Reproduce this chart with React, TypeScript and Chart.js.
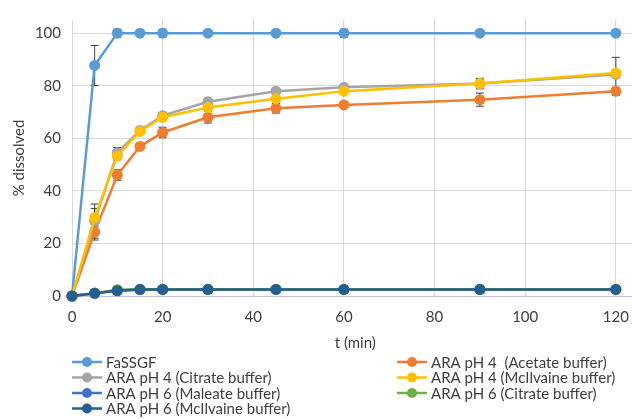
import React, { useEffect, useRef } from "react";
import { Chart, registerables } from "chart.js";

Chart.register(...registerables);

// ---------- data ----------
const times = [0, 5, 10, 15, 20, 30, 45, 60, 90, 120];

const seriesNames = [
  "FaSSGF",
  "ARA pH 4  (Acetate buffer)",
  "ARA pH 4 (Citrate buffer)",
  "ARA pH 4 (McIlvaine buffer)",
  "ARA pH 6 (Maleate buffer)",
  "ARA pH 6 (Citrate buffer)",
  "ARA pH 6 (McIlvaine buffer)",
];

const seriesColors = ["#5B9BD5", "#ED7D31", "#A5A5A5", "#FFC000", "#4472C4", "#70AD47", "#255E91"];

const fassgf = [0, 87.7, 100, 100, 100, 100, 100, 100, 100, 100];
const fassgfErr = [0, 7.6, 1.5, 0, 1.5, 0, 0, 1.5, 0, 0];

const acetatePh4 = [0, 24.3, 46, 56.9, 62.2, 68, 71.4, 72.7, 74.7, 77.9];
const acetatePh4Err = [0, 3, 2, 1, 2, 2.2, 1.8, 1, 2.5, 1.5];

const citratePh4 = [0, 28.5, 54.5, 63, 68.6, 73.9, 77.9, 79.4, 80.8, 84.3];
const citratePh4Err = [0, 6.5, 2, 1, 1, 1, 1, 1, 1.5, 6.5];

const mcilvainePh4 = [0, 29.8, 53.3, 62.6, 68, 71.7, 75, 77.9, 80.8, 84.8];
const mcilvainePh4Err = [0, 3.5, 1.5, 1, 1, 1, 1, 1, 2, 1];

const maleatePh6 = [0, 1, 2.1, 2.4, 2.5, 2.5, 2.5, 2.5, 2.5, 2.5];
const citratePh6 = [0, 1.1, 2.4, 2.6, 2.6, 2.6, 2.6, 2.6, 2.6, 2.6];
const mcilvainePh6 = [0, 1, 2, 2.5, 2.5, 2.5, 2.5, 2.5, 2.5, 2.5];

const seriesValues = [fassgf, acetatePh4, citratePh4, mcilvainePh4, maleatePh6, citratePh6, mcilvainePh6];
const seriesErrors = [fassgfErr, acetatePh4Err, citratePh4Err, mcilvainePh4Err, null, null, null];

const xTicksStep = 20;
const yTicksStep = 20;

const FONT = "Lato, 'Liberation Sans', sans-serif";

// ---------- plugins ----------
const errorBarPlugin = {
  id: "errorBars",
  beforeDatasetsDraw(chart: any) {
    const { ctx, scales } = chart;
    const xs = scales.x;
    const ys = scales.y;
    ctx.save();
    ctx.strokeStyle = "#404040";
    ctx.lineWidth = 1;
    chart.data.datasets.forEach((ds: any) => {
      const errs = ds.errors;
      if (!errs) return;
      ds.data.forEach((p: any, i: number) => {
        const e = errs[i];
        if (!e) return;
        const x = xs.getPixelForValue(p.x);
        const yt = ys.getPixelForValue(p.y + e);
        const yb = ys.getPixelForValue(p.y - e);
        ctx.beginPath();
        ctx.moveTo(x, yt);
        ctx.lineTo(x, yb);
        ctx.moveTo(x - 4, yt);
        ctx.lineTo(x + 4, yt);
        ctx.moveTo(x - 4, yb);
        ctx.lineTo(x + 4, yb);
        ctx.stroke();
      });
    });
    ctx.restore();
  },
};

const legendPlugin = {
  id: "twoColLegend",
  afterDraw(chart: any) {
    const { ctx } = chart;
    const cols = [72, 397];
    const rows = [362, 377.5, 393, 408.5];
    ctx.save();
    chart.data.datasets.forEach((ds: any, i: number) => {
      const x = cols[i % 2];
      const y = rows[Math.floor(i / 2)];
      ctx.strokeStyle = ds.borderColor;
      ctx.lineWidth = 2.5;
      ctx.beginPath();
      ctx.moveTo(x, y);
      ctx.lineTo(x + 30, y);
      ctx.stroke();
      ctx.fillStyle = ds.backgroundColor;
      ctx.beginPath();
      ctx.arc(x + 15, y, 5, 0, Math.PI * 2);
      ctx.fill();
      ctx.fillStyle = "#404040";
      ctx.font = `15px ${FONT}`;
      ctx.textBaseline = "middle";
      ctx.textAlign = "left";
      ctx.fillText(ds.label, x + 34, y + 1);
    });
    ctx.restore();
  },
};

export default function App() {
  const canvasRef = useRef<HTMLCanvasElement | null>(null);

  useEffect(() => {
    if (!canvasRef.current) return;
    const datasets = seriesNames.map((name, i) => ({
      label: name,
      data: times.map((t, j) => ({ x: t, y: seriesValues[i][j] })),
      errors: seriesErrors[i],
      borderColor: seriesColors[i],
      backgroundColor: seriesColors[i],
      pointBackgroundColor: seriesColors[i],
      pointBorderColor: seriesColors[i],
      pointRadius: 5.5,
      pointBorderWidth: 0,
      borderWidth: 2.5,
      tension: 0,
      clip: false,
      order: seriesNames.length - i,
    }));

    const chart = new Chart(canvasRef.current, {
      type: "line",
      data: { datasets } as any,
      options: {
        animation: false,
        responsive: false,
        devicePixelRatio: 1,
        layout: { padding: { top: 11, right: 0, bottom: 67, left: 0 } },
        plugins: {
          legend: { display: false },
          tooltip: { enabled: false },
        },
        scales: {
          x: {
            type: "linear",
            min: 0,
            max: 125,
            afterFit: (s: any) => {
              s.height = 56;
            },
            ticks: {
              stepSize: xTicksStep,
              includeBounds: false,
              padding: 12,
              maxRotation: 0,
              color: "#404040",
              font: { family: FONT, size: 15 },
            },
            grid: { color: "#D9D9D9", drawTicks: false },
            border: { display: true, color: "#C5C5DA", width: 1 },
            title: {
              display: true,
              text: "t (min)",
              color: "#404040",
              font: { family: FONT, size: 15 },
              padding: { top: 0, bottom: 0 },
            },
          },
          y: {
            type: "linear",
            min: 0,
            max: 105,
            afterFit: (s: any) => {
              s.width = 72;
            },
            ticks: {
              stepSize: yTicksStep,
              includeBounds: false,
              padding: 11,
              color: "#404040",
              font: { family: FONT, size: 15 },
            },
            grid: { color: "#D9D9D9", drawTicks: false },
            border: { display: false },
            title: {
              display: true,
              text: "% dissolved",
              color: "#404040",
              font: { family: FONT, size: 15 },
              padding: { top: 10, bottom: 0 },
            },
          },
        },
      } as any,
      plugins: [errorBarPlugin, legendPlugin],
    });
    return () => chart.destroy();
  }, []);

  return (
    <div
      style={{
        position: "fixed",
        left: 0,
        top: 0,
        width: 632,
        height: 419,
        overflow: "hidden",
        background: "#fff",
      }}
    >
      <canvas ref={canvasRef} width={644} height={419} style={{ display: "block" }} />
    </div>
  );
}
